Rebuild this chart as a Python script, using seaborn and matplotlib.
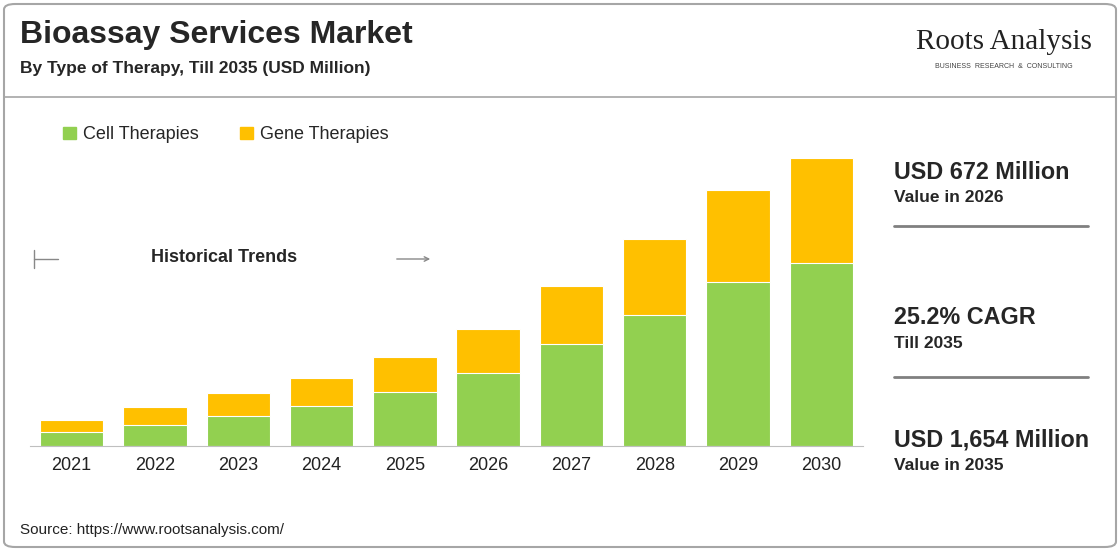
import matplotlib
matplotlib.use('Agg')
import matplotlib.pyplot as plt
import seaborn as sns
import pandas as pd
from matplotlib.patches import FancyBboxPatch, Patch
from matplotlib.lines import Line2D

years = ['2021', '2022', '2023', '2024', '2025', '2026', '2027', '2028', '2029', '2030']
cell = [80, 121, 172, 230, 310, 419, 586, 752, 942, 1051]
gene = [69, 103, 132, 161, 201, 253, 333, 436, 528, 603]

GREEN = '#92d050'
GOLD = '#ffc000'

sns.set_style('white')
plt.rcParams['font.family'] = ['Liberation Sans', 'DejaVu Sans']

df = pd.DataFrame({'year': years, 'cell': cell, 'gene': gene})
df['total'] = df['cell'] + df['gene']

W, H = 1120, 551
fig = plt.figure(figsize=(W / 100, H / 100), dpi=100)
ax = fig.add_axes([30 / W, 1 - 446 / H, 833 / W, 326 / H])

sns.barplot(data=df, x='year', y='total', color=GOLD, width=0.76, ax=ax, saturation=1)
sns.barplot(data=df, x='year', y='cell', color=GREEN, width=0.76, ax=ax, saturation=1)
for p in ax.patches:
    p.set_edgecolor('white')
    p.set_linewidth(0.8)
ax.set_xlim(-0.5, 9.5)
ax.set_ylim(0, 1872)
ax.set_xlabel('')
ax.set_ylabel('')
ax.set_yticks([])
ax.tick_params(axis='x', labelsize=13, length=0, pad=8, colors='#222222')
for s in ['top', 'right', 'left']:
    ax.spines[s].set_visible(False)
ax.spines['bottom'].set_color('#bfbfbf')

ax.legend(handles=[Patch(color=GREEN, label='Cell Therapies'), Patch(color=GOLD, label='Gene Therapies')],
          loc='center left', bbox_to_anchor=(0.02, 0.954), ncol=2, frameon=False, fontsize=13,
          handlelength=0.7, handleheight=0.7, handletextpad=0.4, columnspacing=2.3)

# frame and header
fig.patches.append(FancyBboxPatch((4 / W, 4 / H), 1 - 8 / W, 1 - 8 / H, boxstyle='round,pad=0,rounding_size=0.01',
                                  transform=fig.transFigure, fill=False, edgecolor='#a6a6a6', lw=1.5))
fig.add_artist(Line2D([4 / W, 1 - 4 / W], [1 - 97 / H] * 2, color='#a6a6a6', lw=1.2))
fig.text(20 / W, 1 - 35 / H, 'Bioassay Services Market', fontsize=23, fontweight='bold', va='center')
fig.text(20 / W, 1 - 68 / H, 'By Type of Therapy, Till 2035 (USD Million)', fontsize=12.5, fontweight='bold', va='center')
fig.text(1004 / W, 1 - 42 / H, 'Roots Analysis', fontsize=21, family='Liberation Serif', ha='center', va='center', color='#222222')
fig.text(1004 / W, 1 - 67 / H, 'BUSINESS  RESEARCH  &  CONSULTING', fontsize=5, ha='center', va='center', color='#444444')

# historical trends
fig.text(151 / W, 1 - 258 / H, 'Historical Trends', fontsize=13, fontweight='bold', va='center')
fig.add_artist(Line2D([34 / W, 34 / W], [1 - 250 / H, 1 - 268 / H], color='#888888', lw=1))
fig.add_artist(Line2D([34 / W, 58 / W], [1 - 259 / H] * 2, color='#888888', lw=1))
fig.patches.append(matplotlib.patches.FancyArrowPatch((394 / W, 1 - 259 / H), (433 / W, 1 - 259 / H),
                   transform=fig.transFigure, arrowstyle='->', mutation_scale=8, color='#888888', lw=1))

# right panel
blocks = [(172, 'USD 672 Million', 'Value in 2026'), (318, '25.2% CAGR', 'Till 2035'),
          (440, 'USD 1,654 Million', 'Value in 2035')]
for y, big, small in blocks:
    fig.text(894 / W, 1 - y / H, big, fontsize=16.8, fontweight='bold', va='center')
    fig.text(894 / W, 1 - (y + 26) / H, small, fontsize=12.5, fontweight='bold', va='center')
for y in [226, 377]:
    fig.add_artist(Line2D([894 / W, 1088 / W], [1 - y / H] * 2, color='#808080', lw=2))

fig.text(20 / W, 1 - 530 / H, 'Source: https://www.rootsanalysis.com/', fontsize=11, va='center', color='#222222')

fig.savefig('out.png', dpi=100)
